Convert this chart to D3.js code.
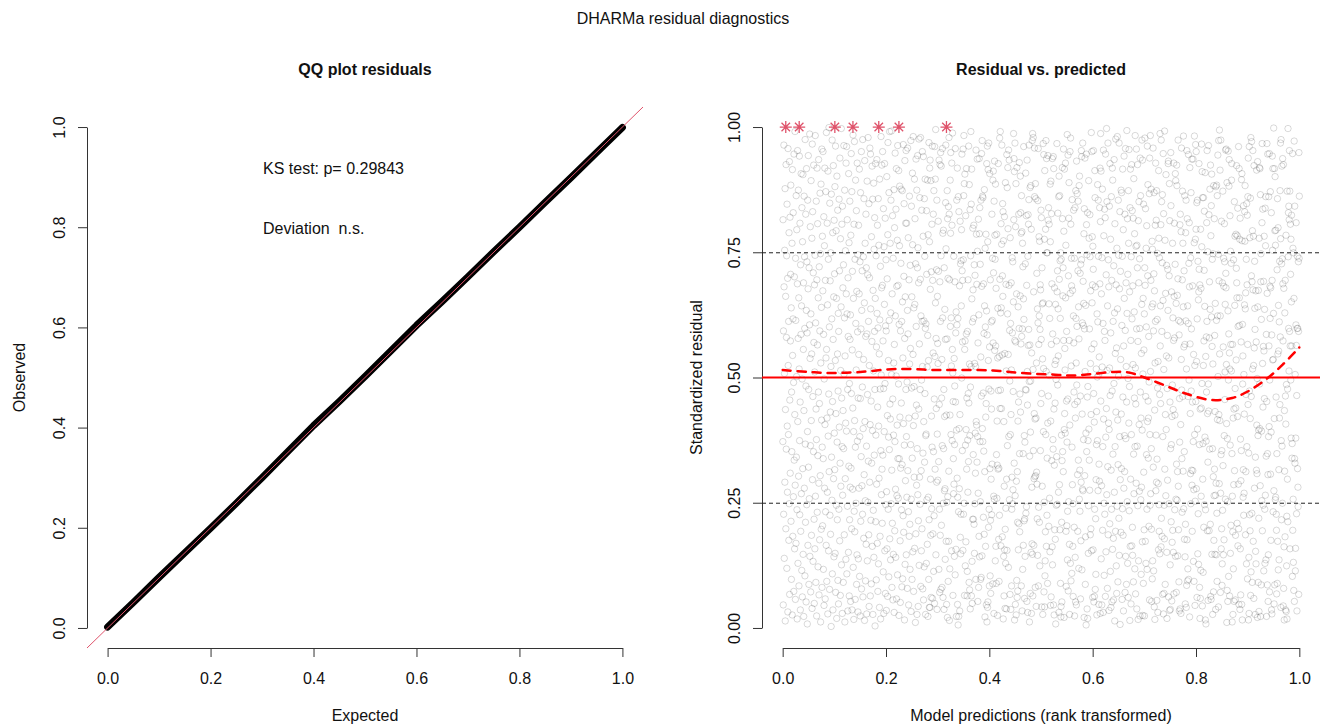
<!DOCTYPE html>
<html><head><meta charset="utf-8">
<script src="https://cdn.jsdelivr.net/npm/d3@7"></script>
<style>body{margin:0;background:#fff}svg{display:block}</style>
</head><body>
<script>
const qqExpected = [0,.05,.10,.15,.20,.25,.30,.35,.40,.45,.50,.55,.60,.65,.70,.75,.80,.85,.90,.95,1];
const qqObserved = [.002,.051,.101,.150,.199,.249,.300,.352,.404,.452,.502,.553,.604,.652,.701,.751,.800,.850,.899,.949,.999];
const xTicks = [0,0.2,0.4,0.6,0.8,1.0];
const qqYTicks = [0,0.2,0.4,0.6,0.8,1.0];
const resYTicks = [0,0.25,0.5,0.75,1];
const refLinesDashed = [0.25,0.75];
const refLineSolid = 0.5;
const fitX = [0.00,0.05,0.10,0.15,0.22,0.30,0.38,0.42,0.46,0.52,0.56,0.60,0.64,0.67,0.70,0.74,0.78,0.83,0.87,0.90,0.94,0.97,1.00];
const fitY = [0.515,0.511,0.509,0.511,0.517,0.515,0.515,0.513,0.509,0.506,0.504,0.507,0.511,0.510,0.500,0.484,0.468,0.455,0.459,0.472,0.500,0.528,0.560];
const outlierX = [0.006,0.032,0.101,0.136,0.186,0.225,0.317];
const outlierY = [1,1,1,1,1,1,1];
const ksText = "KS test: p= 0.29843";
const devText = "Deviation  n.s.";
const residuals = [
.372,.815,.046,.593,.227,.964,.681,.139,.508,.754,.291,.877,.014,.436,.662,.198,.925,.357,.580,.743,
.119,.846,.403,.271,.698,.032,.957,.524,.386,.612,.175,.789,.248,.931,.067,.455,.820,.309,.573,.706,
.884,.213,.639,.097,.471,.352,.768,.026,.915,.544,.183,.617,.829,.262,.490,.073,.946,.335,.701,.158,
.426,.991,.285,.057,.738,.614,.169,.863,.341,.502,.795,.236,.018,.687,.953,.412,.129,.578,.874,.303,
.659,.084,.517,.942,.374,.226,.808,.451,.036,.725,.193,.586,.907,.268,.643,.115,.839,.497,.062,.771,
.318,.905,.147,.556,.689,.023,.434,.862,.279,.741,.598,.104,.975,.367,.211,.826,.483,.052,.634,.917,
.246,.731,.589,.008,.392,.854,.165,.677,.943,.321,.476,.087,.719,.258,.605,.986,.143,.538,.801,.364,
.072,.627,.893,.414,.185,.547,.778,.039,.966,.296,.831,.462,.133,.709,.352,.924,.570,.217,.049,.685,
.511,.158,.744,.983,.263,.609,.091,.437,.852,.376,.024,.695,.918,.231,.565,.807,.344,.122,.659,.471,
.935,.289,.066,.721,.448,.176,.593,.868,.304,.747,.012,.529,.886,.197,.640,.415,.956,.081,.361,.782,
.204,.673,.951,.338,.117,.586,.821,.045,.497,.763,.279,.918,.406,.058,.694,.232,.871,.539,.165,.989,
.556,.093,.419,.808,.271,.645,.028,.912,.383,.736,.154,.467,.999,.312,.601,.077,.848,.225,.693,.431,
.187,.749,.522,.003,.866,.341,.617,.255,.974,.108,.452,.789,.036,.576,.923,.298,.661,.142,.814,.389,
.707,.316,.881,.149,.534,.962,.071,.428,.793,.245,.658,.019,.902,.371,.216,.547,.834,.095,.473,.628,
.048,.592,.237,.856,.401,.713,.174,.938,.329,.065,.777,.514,.283,.641,.997,.126,.459,.806,.362,.029,
.842,.265,.679,.434,.091,.725,.358,.963,.507,.186,.619,.874,.012,.543,.298,.753,.409,.137,.928,.667,
.393,.961,.108,.627,.815,.243,.476,.034,.699,.582,.151,.907,.323,.769,.064,.488,.216,.852,.576,.281,
.625,.053,.784,.319,.947,.468,.198,.871,.036,.555,.712,.277,.439,.984,.121,.658,.392,.017,.806,.233,
.971,.414,.192,.736,.057,.361,.894,.608,.249,.515,.833,.087,.672,.146,.928,.373,.591,.745,.032,.459,
.138,.804,.546,.279,.667,.916,.103,.382,.731,.024,.458,.869,.213,.597,.342,.951,.078,.634,.284,.713,
.481,.227,.975,.062,.398,.741,.536,.179,.857,.306,.649,.015,.933,.412,.768,.254,.094,.582,.826,.167,
.719,.363,.028,.587,.892,.134,.466,.705,.251,.979,.333,.612,.186,.847,.043,.524,.699,.291,.958,.406,
.064,.946,.637,.215,.453,.088,.781,.329,.572,.922,.163,.394,.856,.027,.674,.235,.513,.888,.141,.756,
.345,.592,.819,.476,.004,.658,.927,.212,.385,.743,.096,.561,.287,.935,.628,.169,.804,.441,.073,.599,
.857,.128,.403,.764,.299,.547,.041,.896,.615,.183,.477,.722,.018,.354,.981,.505,.266,.679,.924,.317,
.209,.684,.951,.345,.573,.112,.837,.478,.029,.761,.392,.646,.927,.154,.488,.818,.069,.603,.246,.735,
.593,.035,.272,.901,.158,.697,.424,.063,.785,.969,.237,.534,.381,.102,.869,.614,.356,.991,.178,.447,
.768,.417,.136,.629,.854,.248,.992,.506,.315,.081,.667,.209,.823,.457,.056,.738,.147,.385,.529,.875,
.031,.566,.799,.194,.372,.948,.623,.277,.141,.836,.503,.917,.058,.682,.264,.405,.774,.106,.963,.338,
.684,.259,.487,.913,.025,.606,.338,.763,.882,.421,.174,.051,.593,.319,.728,.876,.449,.236,.612,.082,
.326,.873,.651,.098,.539,.224,.965,.408,.191,.702,.847,.365,.016,.578,.933,.127,.661,.294,.808,.476,
.953,.146,.382,.808,.261,.491,.079,.634,.958,.314,.587,.779,.232,.046,.419,.695,.183,.862,.527,.207,
.117,.724,.558,.366,.973,.033,.257,.842,.479,.661,.097,.339,.908,.765,.152,.546,.981,.404,.073,.639,
.482,.301,.896,.159,.646,.817,.423,.011,.727,.188,.936,.602,.445,.285,.874,.027,.358,.719,.943,.266,
.759,.043,.214,.689,.437,.976,.125,.567,.301,.859,.247,.476,.696,.979,.083,.623,.314,.154,.495,.834,
.198,.612,.951,.522,.078,.349,.782,.941,.056,.412,.613,.122,.857,.331,.742,.468,.896,.598,.027,.384,
.607,.387,.129,.833,.706,.256,.521,.167,.894,.584,.023,.785,.261,.534,.097,.969,.216,.041,.771,.918,
.041,.934,.676,.297,.185,.893,.061,.711,.423,.238,.806,.361,.962,.059,.694,.188,.549,.826,.352,.113,
.873,.224,.457,.049,.961,.542,.317,.896,.649,.995,.146,.578,.438,.715,.291,.854,.037,.387,.662,.568,
.295,.528,.812,.712,.332,.117,.934,.446,.237,.071,.691,.925,.185,.612,.949,.077,.743,.922,.205,.459,
.536,.081,.364,.957,.619,.788,.061,.249,.794,.358,.476,.037,.719,.274,.422,.636,.278,.137,.576,.849,
.964,.757,.173,.425,.047,.251,.577,.873,.021,.817,.262,.698,.093,.841,.173,.313,.979,.826,.015,.695,
.118,.425,.894,.602,.788,.949,.386,.619,.523,.154,.928,.804,.374,.556,.988,.509,.065,.452,.338,.268,
.742,.287,.538,.143,.366,.483,.691,.106,.957,.451,.589,.157,.631,.023,.395,.854,.605,.299,.918,.047,
.261,.618,.006,.861,.232,.023,.831,.398,.278,.683,.034,.426,.812,.181,.727,.148,.227,.733,.643,.795,
.499,.946,.713,.354,.571,.694,.155,.956,.735,.227,.863,.983,.249,.887,.065,.556,.906,.573,.124,.365,
.823,.172,.396,.587,.917,.317,.459,.064,.113,.592,.375,.271,.695,.468,.332,.962,.449,.091,.885,.527,
.076,.384,.835,.038,.481,.743,.991,.522,.846,.064,.916,.657,.133,.049,.611,.217,.798,.675,.346,.217,
.618,.804,.207,.725,.149,.528,.248,.704,.389,.309,.522,.097,.954,.412,.786,.405,.686,.331,.936,.752,
.382,.053,.569,.269,.816,.081,.625,.183,.937,.787,.142,.839,.372,.726,.252,.097,.541,.854,.101,.463,
.947,.682,.144,.973,.398,.862,.372,.859,.469,.221,.687,.353,.588,.187,.875,.643,.312,.022,.758,.601,
.163,.421,.786,.448,.046,.633,.927,.012,.585,.962,.041,.771,.052,.915,.534,.201,.968,.477,.237,.084,
.561,.907,.318,.104,.695,.215,.069,.473,.297,.611,.437,.226,.826,.327,.614,.738,.088,.894,.569,.912,
.709,.263,.029,.852,.257,.932,.554,.784,.736,.134,.886,.563,.163,.678,.089,.346,.786,.259,.413,.325,
.025,.539,.638,.317,.927,.474,.177,.319,.093,.542,.225,.978,.696,.438,.991,.475,.629,.164,.807,.639,
.438,.766,.964,.545,.182,.703,.847,.662,.831,.018,.773,.143,.412,.064,.283,.821,.156,.548,.039,.197,
.889,.129,.239,.686,.513,.038,.297,.945,.155,.879,.364,.627,.919,.797,.546,.121,.954,.382,.684,.934,
.256,.594,.493,.067,.779,.386,.608,.037,.426,.689,.515,.084,.237,.301,.739,.589,.248,.731,.276,.472,
.651,.987,.815,.937,.329,.911,.016,.574,.968,.264,.047,.801,.571,.887,.026,.293,.667,.095,.919,.061,
.312,.211,.074,.413,.641,.156,.451,.826,.208,.598,.929,.348,.192,.467,.663,.902,.431,.829,.567,.788,
.084,.863,.582,.791,.034,.597,.768,.117,.721,.348,.165,.657,.961,.616,.214,.384,.059,.218,.371,.143,
.727,.476,.908,.229,.475,.823,.242,.684,.053,.934,.512,.445,.031,.742,.825,.564,.806,.596,.855,.964,
.492,.012,.343,.565,.879,.069,.391,.493,.883,.151,.796,.029,.549,.281,.168,.973,.147,.987,.064,.516,
.979,.354,.671,.165,.298,.428,.958,.861,.302,.417,.081,.887,.304,.857,.419,.043,.529,.311,.708,.287,
.218,.637,.145,.853,.609,.957,.084,.241,.566,.781,.623,.211,.772,.124,.596,.685,.354,.675,.448,.834,
.576,.819,.468,.042,.719,.283,.647,.537,.027,.649,.967,.392,.518,.945,.072,.251,.776,.042,.913,.104,
.134,.192,.796,.386,.973,.512,.163,.937,.749,.225,.339,.749,.089,.409,.943,.814,.463,.839,.203,.647,
.806,.504,.259,.618,.152,.886,.771,.045,.413,.892,.062,.566,.827,.334,.687,.162,.937,.126,.587,.376,
.357,.941,.046,.917,.437,.026,.325,.679,.196,.526,.449,.177,.646,.008,.534,.496,.245,.573,.342,.967,
.671,.247,.713,.485,.828,.637,.543,.271,.861,.031,.902,.696,.286,.863,.196,.733,.618,.089,.749,.022,
.043,.736,.385,.211,.052,.334,.919,.817,.352,.663,.719,.312,.956,.574,.792,.021,.396,.916,.428,.558,
.515,.389,.928,.659,.764,.193,.083,.453,.592,.204,.371,.985,.136,.233,.457,.944,.074,.703,.252,.818,
.889,.574,.167,.027,.405,.951,.668,.129,.978,.806,.094,.523,.738,.683,.109,.361,.855,.286,.674,.163,
.248,.063,.623,.834,.569,.471,.201,.738,.024,.446,.839,.141,.419,.052,.873,.618,.529,.046,.932,.485,
.602,.867,.452,.306,.193,.713,.852,.335,.641,.119,.577,.883,.257,.902,.315,.233,.708,.463,.058,.726,
.174,.291,.953,.735,.941,.116,.427,.609,.277,.968,.274,.692,.604,.376,.648,.787,.021,.837,.597,.304,
.938,.512,.087,.182,.644,.389,.006,.946,.805,.352,.745,.038,.461,.829,.019,.482,.374,.149,.244,.893,
.397,.778,.335,.597,.275,.825,.741,.186,.528,.673,.198,.426,.989,.154,.557,.951,.649,.781,.685,.061,
.762,.156,.716,.953,.468,.052,.567,.411,.063,.237,.913,.859,.077,.681,.218,.107,.296,.517,.366,.432,
.026,.627,.501,.374,.885,.611,.274,.854,.742,.505,.047,.327,.541,.293,.839,.687,.918,.029,.811,.987,
.453,.912,.138,.667,.284,.046,.739,.521,.876,.195,.362,.608,.031,.954,.417,.783,.249,.105,.592,.836,
.227,.574,.819,.063,.946,.381,.152,.705,.438,.997,.266,.851,.514,.079,.643,.322,.968,.186,.735,.409,
.681,.035,.396,.842,.519,.208,.927,.464,.113,.776,.589,.041,.315,.861,.237,.694,.052,.473,.918,.157,
.894,.347,.612,.179,.056,.723,.488,.935,.271,.629,.014,.807,.362,.548,.193,.976,.431,.685,.124,.559,
.069,.758,.243,.981,.637,.415,.092,.326,.854,.503,.744,.219,.968,.145,.677,.382,.831,.007,.296,.712,
.536,.191,.874,.427,.318,.869,.604,.057,.742,.238,.916,.461,.185,.795,.034,.563,.279,.942,.658,.384,
.312,.826,.071,.594,.957,.143,.378,.689,.522,.087,.451,.993,.628,.252,.817,.129,.706,.498,.061,.873,
.768,.409,.955,.234,.482,.671,.015,.839,.163,.916,.297,.574,.048,.741,.386,.925,.164,.617,.833,.201,
.145,.683,.526,.818,.092,.347,.897,.268,.631,.459,.787,.118,.362,.983,.519,.068,.447,.762,.289,.956,
.597,.038,.764,.363,.719,.925,.244,.572,.017,.813,.134,.689,.851,.406,.273,.737,.598,.024,.938,.471,
.863,.256,.419,.107,.548,.281,.646,.974,.395,.172,.934,.025,.507,.658,.089,.846,.311,.555,.196,.627,
.024,.719,.978,.684,.173,.837,.462,.129,.758,.601,.346,.803,.237,.117,.962,.412,.703,.885,.453,.339,
.419,.582,.203,.491,.867,.056,.938,.386,.245,.983,.512,.268,.694,.876,.358,.197,.053,.641,.772,.098,
.756,.134,.647,.958,.321,.593,.114,.707,.869,.042,.673,.435,.017,.529,.804,.612,.928,.274,.385,.814,
.291,.873,.055,.337,.616,.748,.479,.031,.532,.288,.156,.913,.778,.246,.193,.739,.466,.148,.987,.563,
.643,.448,.805,.162,.974,.219,.851,.592,.183,.729,.865,.067,.382,.654,.947,.028,.827,.516,.069,.245,
.178,.992,.317,.774,.087,.426,.668,.264,.905,.396,.543,.724,.151,.019,.478,.584,.295,.716,.634,.927,
.932,.062,.539,.248,.703,.887,.035,.813,.451,.126,.037,.358,.949,.843,.212,.366,.671,.054,.422,.171,
.485,.768,.195,.619,.436,.151,.574,.928,.068,.662,.808,.579,.236,.425,.726,.907,.143,.893,.257,.648,
.071,.327,.924,.883,.255,.664,.312,.144,.697,.974,.283,.196,.614,.092,.585,.034,.458,.371,.805,.038,
.826,.611,.406,.029,.791,.536,.958,.475,.338,.231,.695,.872,.462,.768,.313,.641,.982,.238,.561,.713,
.352,.177,.863,.566,.142,.048,.207,.789,.613,.854,.041,.517,.085,.953,.176,.817,.094,.643,.118,.462,
.608,.945,.097,.728,.495,.809,.681,.022,.919,.567,.428,.308,.739,.248,.869,.473,.597,.315,.936,.285,
.193,.451,.683,.314,.936,.372,.133,.546,.276,.093,.769,.982,.386,.524,.045,.253,.776,.965,.452,.796,
.951,.278,.532,.849,.061,.617,.854,.397,.148,.732,.228,.655,.127,.671,.927,.716,.366,.081,.685,.019,
.437,.059,.796,.115,.678,.263,.439,.966,.761,.488,.911,.044,.859,.297,.368,.111,.524,.859,.201,.573,
.714,.832,.246,.642,.381,.909,.016,.236,.542,.008,.373,.581,.471,.809,.612,.953,.194,.428,.751,.331,
.055,.487,.963,.433,.825,.194,.579,.691,.357,.876,.636,.207,.924,.063,.783,.057,.843,.621,.906,.147,
.562,.736,.358,.027,.527,.747,.302,.072,.883,.175,.264,.817,.317,.584,.147,.432,.648,.265,.037,.881,
.289,.146,.614,.884,.229,.093,.863,.416,.623,.944,.502,.746,.042,.973,.426,.693,.288,.994,.547,.414,
.914,.623,.071,.269,.974,.346,.158,.812,.198,.354,.085,.128,.689,.235,.872,.324,.561,.146,.738,.682,
.176,.384,.807,.731,.456,.511,.646,.257,.954,.708,.679,.956,.526,.408,.011,.889,.075,.378,.252,.053,
.633,.952,.495,.103,.587,.882,.935,.549,.064,.517,.823,.365,.149,.752,.566,.205,.728,.513,.894,.927,
.348,.012,.263,.566,.192,.027,.419,.118,.735,.286,.437,.053,.851,.314,.644,.782,.478,.056,.185,.439,
.786,.535,.718,.923,.689,.659,.209,.783,.422,.838,.164,.602,.287,.961,.198,.047,.917,.659,.604,.776,
.037,.818,.158,.377,.066,.294,.571,.354,.895,.047,.907,.773,.016,.606,.487,.543,.261,.316,.843,.225,
.506,.269,.427,.645,.831,.772,.883,.637,.186,.669,.312,.466,.736,.128,.847,.362,.685,.824,.098,.566,
.861,.446,.938,.016,.349,.141,.029,.961,.473,.226,.779,.194,.418,.858,.065,.979,.112,.462,.703,.971,
.229,.691,.091,.793,.517,.953,.675,.173,.782,.524,.059,.923,.559,.279,.732,.638,.596,.027,.341,.153,
.673,.128,.571,.315,.914,.405,.308,.498,.021,.931,.641,.384,.091,.674,.395,.219,.033,.778,.919,.487,
.398,.917,.284,.865,.023,.691,.747,.086,.616,.393,.254,.809,.967,.194,.528,.836,.441,.245,.562,.692,
.114,.553,.782,.458,.636,.237,.129,.838,.265,.763,.861,.136,.343,.586,.023,.452,.967,.668,.086,.348,
.946,.306,.053,.146,.382,.861,.563,.402,.947,.072,.495,.682,.618,.871,.307,.679,.175,.391,.829,.036,
.585,.028,.694,.942,.754,.535,.917,.232,.536,.628,.998,.274,.048,.418,.917,.086,.793,.901,.256,.764,
.261,.794,.461,.227,.195,.068,.348,.715,.089,.857,.173,.547,.799,.116,.644,.553,.316,.136,.611,.419,
.732,.446,.873,.581,.968,.777,.041,.975,.374,.216,.727,.922,.363,.737,.249,.937,.687,.573,.044,.925,
.079,.678,.162,.016,.434,.313,.629,.182,.694,.463,.036,.407,.784,.033,.486,.124,.223,.018,.872,.297,
.477,.212,.997,.741,.829,.598,.842,.513,.815,.953,.592,.872,.158,.563,.806,.706,.495,.776,.379,.651,
.824,.563,.339,.368,.103,.947,.195,.758,.257,.131,.749,.075,.658,.972,.053,.338,.842,.329,.506,.114,
.159,.379,.605,.809,.564,.228,.464,.034,.598,.742,.318,.598,.281,.242,.731,.592,.067,.949,.738,.862
];

const W = 1328, H = 727;
const FONT = '"Liberation Sans", Arial, Helvetica, sans-serif';
const svg = d3.select("body").append("svg").attr("width", W).attr("height", H)
  .style("font-family", FONT);

const dom = [-0.04, 1.04];
const yS = d3.scaleLinear().domain(dom).range([648, 107]);
const xL = d3.scaleLinear().domain(dom).range([87, 643]);
const xR = d3.scaleLinear().domain(dom).range([762, 1320]);
const AX = "#333", TXT = "#111";

function xAxis(x, ticks, fmt) {
  const g = svg.append("g").attr("transform", `translate(0,${yS(dom[0])})`)
    .call(d3.axisBottom(x).tickValues(ticks).tickSize(9).tickFormat(fmt));
  g.attr("font-size", 16).attr("font-family", FONT);
  g.select(".domain").attr("d", `M${x(ticks[0]) + 0.5},0.5H${x(ticks[ticks.length - 1]) + 0.5}`).attr("stroke", AX);
  g.selectAll(".tick line").attr("stroke", AX);
  g.selectAll("text").attr("y", 36).attr("dy", null).attr("fill", TXT);
}
function yAxis(x0, ticks, fmt) {
  const g = svg.append("g").attr("transform", `translate(${x0},0)`)
    .call(d3.axisLeft(yS).tickValues(ticks).tickSize(9).tickFormat(fmt));
  g.attr("font-size", 16).attr("font-family", FONT);
  g.select(".domain").attr("d", `M0.5,${yS(ticks[0]) + 0.5}V${yS(ticks[ticks.length - 1]) + 0.5}`).attr("stroke", AX);
  g.selectAll(".tick line").attr("stroke", AX);
  g.selectAll("text").attr("transform", "rotate(-90)").attr("x", 0).attr("y", -22)
    .attr("dy", null).attr("text-anchor", "middle").attr("fill", TXT);
}
function label(x, y, txt, opts = {}) {
  const t = svg.append("text").attr("x", x).attr("y", y).attr("font-size", opts.size || 16)
    .attr("text-anchor", opts.anchor || "middle").attr("fill", TXT)
    .attr("font-weight", opts.bold ? "bold" : "normal").text(txt);
  if (opts.rot) t.attr("transform", `rotate(-90,${x},${y})`);
  return t;
}

// main title
label(683, 24, "DHARMa residual diagnostics");

// ===== Left panel: QQ plot =====
label((xL.range()[0] + xL.range()[1]) / 2, 75, "QQ plot residuals", { bold: true });
xAxis(xL, xTicks, d3.format(".1f"));
yAxis(xL.range()[0], qqYTicks, d3.format(".1f"));
label((xL.range()[0] + xL.range()[1]) / 2, 721, "Expected");
label(25, (yS.range()[0] + yS.range()[1]) / 2, "Observed", { rot: true });

const qqData = qqExpected.map((e, i) => [e, qqObserved[i]]);
svg.append("path").datum(qqData)
  .attr("d", d3.line().x(d => xL(d[0])).y(d => yS(d[1])))
  .attr("fill", "none").attr("stroke", "#000").attr("stroke-width", 7)
  .attr("stroke-linecap", "round").attr("stroke-linejoin", "round");
svg.append("line")
  .attr("x1", xL(dom[0])).attr("y1", yS(dom[0])).attr("x2", xL(dom[1])).attr("y2", yS(dom[1]))
  .attr("stroke", "#DF536B").attr("stroke-width", 1);
svg.append("text").attr("x", 263).attr("y", 174).attr("font-size", 16).attr("fill", TXT).text(ksText);
svg.append("text").attr("x", 263).attr("y", 234).attr("font-size", 16).attr("fill", TXT)
  .attr("xml:space", "preserve").style("white-space", "pre").text(devText);

// ===== Right panel: residual vs predicted =====
label((xR.range()[0] + xR.range()[1]) / 2, 75, "Residual vs. predicted", { bold: true });
xAxis(xR, xTicks, d3.format(".1f"));
yAxis(xR.range()[0], resYTicks, d3.format(".2f"));
label((xR.range()[0] + xR.range()[1]) / 2, 721, "Model predictions (rank transformed)");
label(702, (yS.range()[0] + yS.range()[1]) / 2, "Standardized residual", { rot: true });

const N = residuals.length;
svg.append("g").selectAll("circle").data(residuals).join("circle")
  .attr("cx", (d, i) => xR((i + 1) / N))
  .attr("cy", d => yS(d))
  .attr("r", 3.2)
  .attr("fill", "none").attr("stroke", "rgba(0,0,0,0.15)").attr("stroke-width", 1);

svg.append("g").selectAll("line").data(refLinesDashed).join("line")
  .attr("x1", xR(dom[0])).attr("x2", xR(dom[1]))
  .attr("y1", d => yS(d) + 0.5).attr("y2", d => yS(d) + 0.5)
  .attr("stroke", "#222").attr("stroke-width", 1).attr("stroke-dasharray", "4,3");
svg.append("line")
  .attr("x1", xR(dom[0])).attr("x2", xR(dom[1]))
  .attr("y1", yS(refLineSolid)).attr("y2", yS(refLineSolid))
  .attr("stroke", "#FF0000").attr("stroke-width", 2);

const fitData = fitX.map((x, i) => [x, fitY[i]]);
svg.append("path").datum(fitData)
  .attr("d", d3.line().curve(d3.curveCatmullRom).x(d => xR(d[0])).y(d => yS(d[1])))
  .attr("fill", "none").attr("stroke", "#FF0000").attr("stroke-width", 2.5)
  .attr("stroke-dasharray", "8,7").attr("stroke-linecap", "round");

const a = 6, b = a / Math.SQRT2;
const star = `M${-a},0H${a}M0,${-a}V${a}M${-b},${-b}L${b},${b}M${-b},${b}L${b},${-b}`;
svg.append("g").selectAll("path").data(outlierX.map((x, i) => [x, outlierY[i]])).join("path")
  .attr("transform", d => `translate(${xR(d[0])},${yS(d[1])})`)
  .attr("d", star).attr("fill", "none").attr("stroke", "#DF536B").attr("stroke-width", 1.3);
</script>
</body></html>
